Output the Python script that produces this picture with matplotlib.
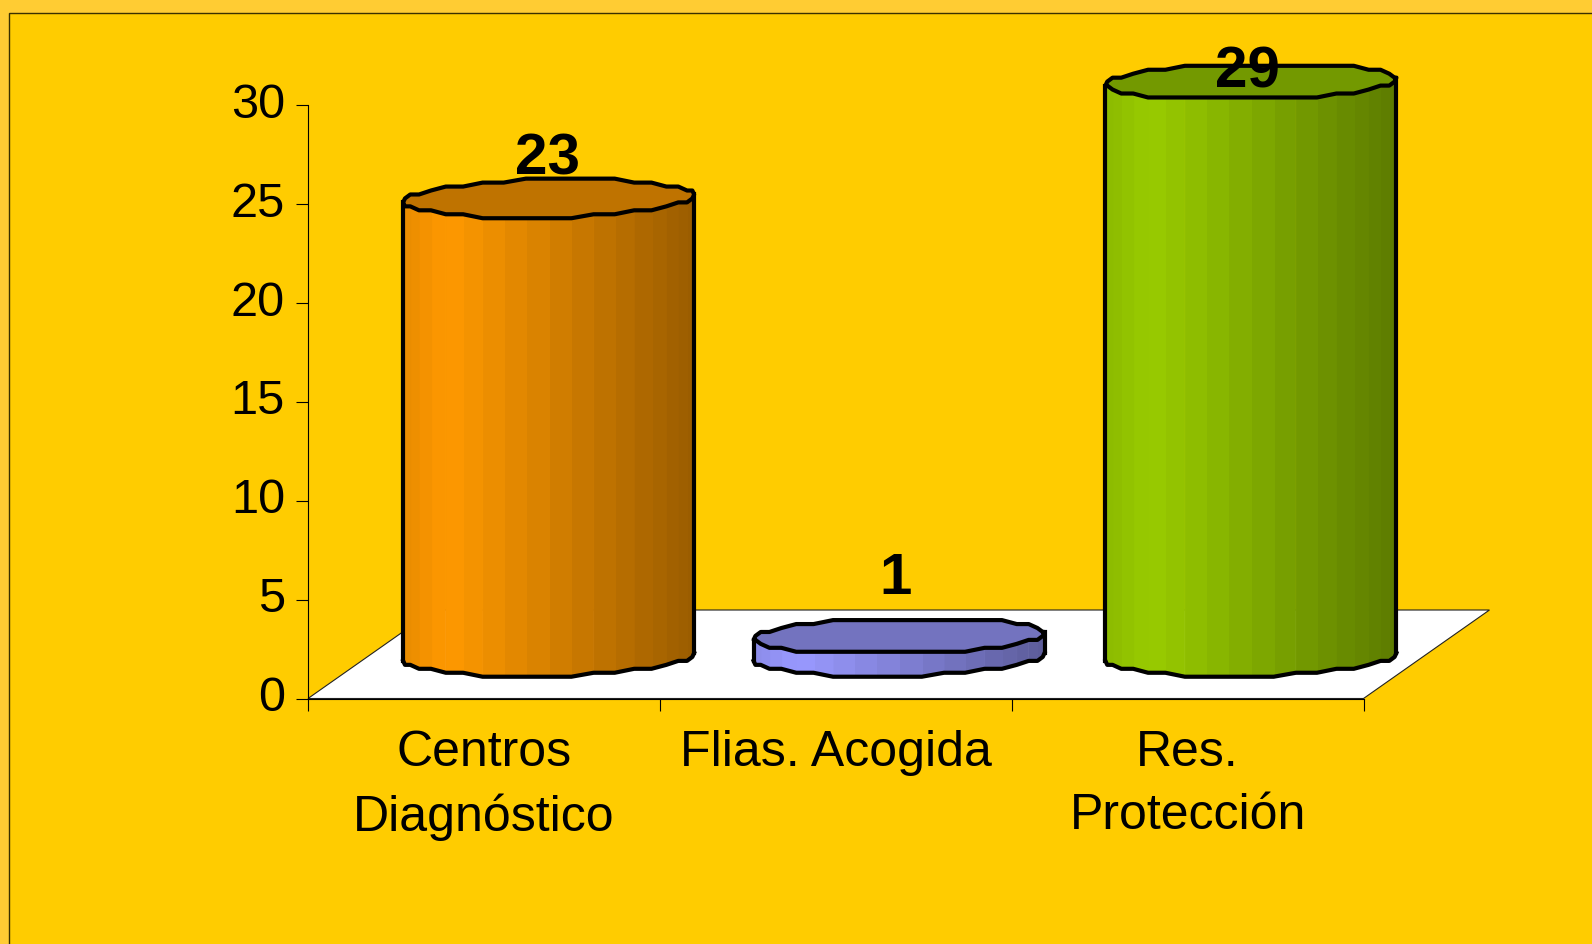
import numpy as np
import matplotlib
matplotlib.use("Agg")
import matplotlib.pyplot as plt
from matplotlib.patches import Rectangle
from matplotlib.transforms import ScaledTranslation

categories = ["Centros\nDiagnóstico", "Flias. Acogida", "Res.\nProtección"]
values = [23, 1, 29]
bar_colors = ["#FF9900", "#9999FF", "#99CC00"]
y_ticks = [0, 5, 10, 15, 20, 25, 30]

# styling / projection constants
W, H = 1592, 945
FONT = "Liberation Sans"
label_lift = [4.3, 5.1, 2.66]
label_shift = [-0.002, -0.011, -0.011]
depth_x, depth_y = 0.358, 4.47
center_x = [0.684, 0.68, 0.68]
half_w = 0.4135
base_cy = 2.1
cap_lift = 0.16
ry_base = 0.97
ry_top = [0.97, 0.87, 0.87]
skew = 0.16
snap = 0.2
LW = 3.0

fig = plt.figure(figsize=(W / 100, H / 100), dpi=100, facecolor="#FFCC33")
fig.add_artist(Rectangle((8.5 / W, -0.1), 1.2, 1.1 - 13.7 / H, transform=fig.transFigure,
                         facecolor="#FFCC00", edgecolor="#3A3000", linewidth=1.0, zorder=-5))

ax = fig.add_axes([308 / W, 1 - 699.5 / H, (1363.5 - 308) / W, (699.5 - 105.6) / H])
ax.patch.set_alpha(0)
ax.set_xlim(0, 3)
ax.set_ylim(0, 30)


def outline(cx, cy, t, ry):
    x = cx - half_w * np.cos(t)
    y = ry * np.sin(t) - skew * np.cos(t)
    return x, cy + np.round(y / snap) * snap


def shade(u):
    return np.interp(u, [0, 0.15, 1], [0.91, 1.0, 0.6])


# floor
ax.fill([0, 3, 3 + depth_x, depth_x], [0, 0, depth_y, depth_y], facecolor="white",
        edgecolor="#222222", linewidth=0.8, clip_on=False, zorder=1)

# cylinders
for i, (v, c) in enumerate(zip(values, bar_colors)):
    cx = i + center_x[i]
    z = 3 + i
    rt = ry_top[i]
    top_cy = base_cy + v + cap_lift - (ry_base - rt)
    rgb = np.array(matplotlib.colors.to_rgb(c))
    t_front = np.linspace(np.pi, 2 * np.pi, 21)
    xb, yb = outline(cx, base_cy, t_front, ry_base)
    xt, yt = outline(cx, top_cy, t_front, rt)
    for k in range(len(t_front) - 1):
        u = ((xb[k] + xb[k + 1]) / 2 - (cx - half_w)) / (2 * half_w)
        col = tuple(rgb * shade(u))
        ax.fill([xb[k], xb[k + 1], xb[k + 1], xb[k]], [yb[k], yb[k + 1], yt[k + 1], yt[k]],
                facecolor=col, edgecolor=col, linewidth=0.8, clip_on=False, zorder=z)
    ax.plot(xb, yb, color="black", lw=LW, solid_joinstyle="round", clip_on=False, zorder=z + 0.1)
    ax.plot([xb[0], xt[0]], [yb[0], yt[0]], color="black", lw=LW, clip_on=False, zorder=z + 0.1)
    ax.plot([xb[-1], xt[-1]], [yb[-1], yt[-1]], color="black", lw=LW, clip_on=False, zorder=z + 0.1)
    t_all = np.linspace(0, 2 * np.pi, 41)
    xa, ya = outline(cx, top_cy, t_all, rt)
    ax.fill(xa, ya, facecolor=tuple(rgb * 0.75), edgecolor="black", linewidth=LW,
            joinstyle="round", clip_on=False, zorder=z + 0.2)
    ax.text(cx + label_shift[i], v + label_lift[i], str(v), ha="center", va="center",
            family=FONT, fontweight="bold", fontsize=42, color="black", zorder=20, clip_on=False)

# axes
for s in ("top", "right"):
    ax.spines[s].set_visible(False)
ax.spines["left"].set_linewidth(0.8)
ax.spines["bottom"].set_linewidth(0.8)
ax.spines["bottom"].set_zorder(2)
ax.set_yticks(y_ticks)
ax.set_xticks([0, 1, 2, 3])
ax.set_xticklabels([])
ax.tick_params(axis="both", which="major", direction="out", length=8.6, width=0.8, color="black")
ax.tick_params(axis="y", labelsize=35, pad=8)
ax.set_xticks([0.5, 1.5, 2.5], categories, minor=True)
ax.tick_params(axis="x", which="minor", length=0, pad=22, labelsize=36)
for lab in ax.get_xticklabels(minor=True):
    lab.set_family(FONT)
    lab.set_linespacing(1.46)
    lab.set_va("top")
shift = ScaledTranslation(0, 4 / 72, fig.dpi_scale_trans)
for tick in ax.yaxis.get_major_ticks():
    tick.label1.set_family(FONT)
    tick.label1.set_transform(tick.label1.get_transform() + shift)

fig.savefig("out.png", dpi=100, facecolor=fig.get_facecolor())
